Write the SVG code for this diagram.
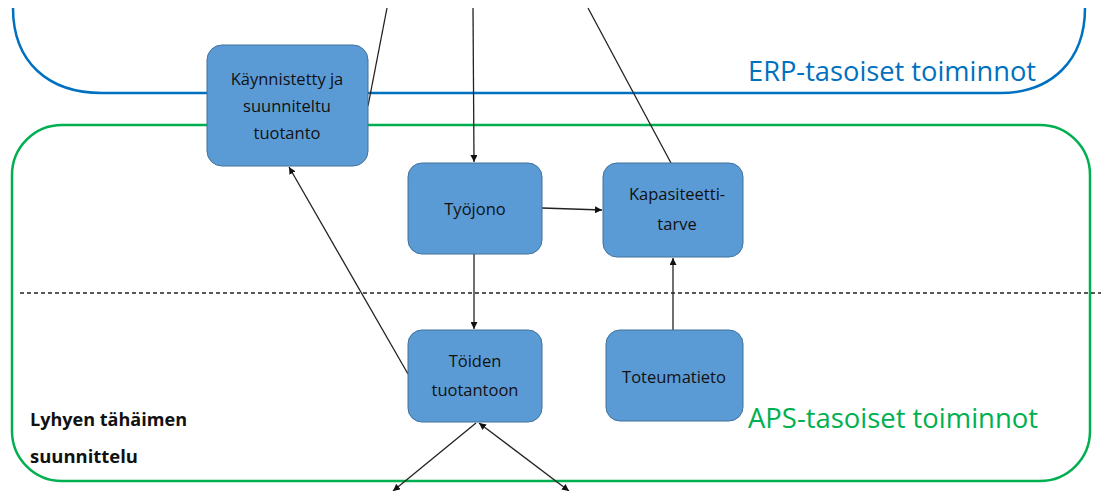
<svg xmlns="http://www.w3.org/2000/svg" width="1101" height="491" viewBox="0 0 1101 491">
  <style>
    .node rect { fill: #5b9bd5; stroke: #41719c; stroke-width: 1; }
    .node text { font-family: "Open Sans", "Liberation Sans", sans-serif; font-size: 16.5px; fill: #111; text-anchor: middle; }
    .conn { stroke: #222; stroke-width: 1.3; fill: none; }
    .area-label { font-family: "Open Sans", "Liberation Sans", sans-serif; font-size: 27px; }
    .note { font-family: "Open Sans", "Liberation Sans", sans-serif; font-size: 17.5px; font-weight: bold; fill: #111; }
  </style>
  <defs>
    <marker id="arr" viewBox="0 0 10 10" refX="10" refY="5" markerWidth="7" markerHeight="7" orient="auto-start-reverse" markerUnits="userSpaceOnUse">
      <path d="M0,0 L10,5 L0,10 z" fill="#111"/>
    </marker>
  </defs>
  <rect width="1101" height="491" fill="#fff"/>

  <!-- level areas -->
  <g id="erp-area">
    <path d="M13,8 C13,62 48,93 102,93 L1000,93 C1052,93 1085,60 1085,8" fill="none" stroke="#0070c0" stroke-width="2.5"/>
    <text class="area-label" x="748" y="81" fill="#0070c0" textLength="288" lengthAdjust="spacingAndGlyphs">ERP-tasoiset toiminnot</text>
  </g>
  <g id="aps-area">
    <rect x="12" y="125" width="1078" height="356" rx="50" fill="none" stroke="#00b050" stroke-width="2.5"/>
    <text class="area-label" x="748" y="428" fill="#00b050" textLength="290" lengthAdjust="spacingAndGlyphs">APS-tasoiset toiminnot</text>
  </g>
  <line id="divider" x1="20" y1="293" x2="1101" y2="293" stroke="#222" stroke-width="1.3" stroke-dasharray="4 3"/>
  <g id="short-term-label">
    <text class="note" x="30" y="426" textLength="157" lengthAdjust="spacingAndGlyphs">Lyhyen tähäimen</text>
    <text class="note" x="30" y="463" textLength="108" lengthAdjust="spacingAndGlyphs">suunnittelu</text>
  </g>

  <!-- connectors -->
  <g id="connectors">
    <line class="conn" x1="387" y1="8" x2="368" y2="106"/>
    <line class="conn" x1="473" y1="8" x2="474" y2="162" marker-end="url(#arr)"/>
    <line class="conn" x1="588" y1="8" x2="671" y2="163"/>
    <line class="conn" x1="542" y1="208" x2="602" y2="210" marker-end="url(#arr)"/>
    <line class="conn" x1="474" y1="254" x2="474" y2="329" marker-end="url(#arr)"/>
    <line class="conn" x1="673" y1="330" x2="673" y2="258" marker-end="url(#arr)"/>
    <line class="conn" x1="408" y1="374" x2="289" y2="167" marker-end="url(#arr)"/>
    <line class="conn" x1="476" y1="423" x2="393" y2="491" marker-end="url(#arr)"/>
    <line class="conn" x1="569" y1="491" x2="479" y2="423" marker-start="url(#arr)" marker-end="url(#arr)"/>
  </g>

  <!-- nodes -->
  <g id="kaynnistetty" class="node">
    <rect x="207" y="45" width="161" height="121" rx="15"/>
    <text x="287" y="85">Käynnistetty ja</text>
    <text x="287" y="112">suunniteltu</text>
    <text x="287" y="139">tuotanto</text>
  </g>
  <g id="tyojono" class="node">
    <rect x="408" y="163" width="134" height="91" rx="14"/>
    <text x="475" y="215">Työjono</text>
  </g>
  <g id="kapasiteettitarve" class="node">
    <rect x="603" y="163" width="140" height="94" rx="14"/>
    <text x="677" y="200">Kapasiteetti-</text>
    <text x="677" y="230">tarve</text>
  </g>
  <g id="toiden-tuotantoon" class="node">
    <rect x="408" y="330" width="134" height="92" rx="14"/>
    <text x="475" y="367">Töiden</text>
    <text x="475" y="396">tuotantoon</text>
  </g>
  <g id="toteumatieto" class="node">
    <rect x="606" y="330" width="137" height="91" rx="14"/>
    <text x="674" y="383">Toteumatieto</text>
  </g>
</svg>
